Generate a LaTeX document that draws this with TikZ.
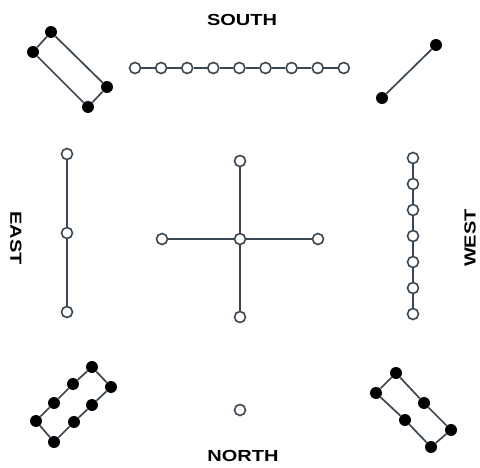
\documentclass[tikz,border=0pt]{standalone}
\usepackage{fontspec}
\newfontfamily\lblfont[FakeStretch=1.25]{Liberation Sans Bold}
\definecolor{linegray}{HTML}{3A4652}
\tikzset{
  yang/.style={circle,draw=linegray,fill=white,line width=1.6pt,inner sep=0pt,minimum size=11pt},
  yin/.style={circle,fill=black,inner sep=0pt,minimum size=12pt},
  link/.style={draw=linegray,line width=1.7pt},
  dirlabel/.style={font=\lblfont\fontsize{16}{16}\selectfont,inner sep=0pt}
}

\begin{document}
\begin{tikzpicture}[x=1pt,y=-1pt]
  \useasboundingbox (0,0) rectangle (480,468);
  % direction labels
  \node[dirlabel] (south) at (242,20) {SOUTH};
  \node[dirlabel] (north) at (243,456) {NORTH};
  \node[dirlabel,rotate=-90] (east) at (16,238) {EAST};
  \node[dirlabel,rotate=90] (west) at (470,238) {WEST};
  % south: nine white
  \foreach \i in {0,...,8}
    \node[yang] (s\i) at ({135+26.1*\i},68) {};
  \foreach \i [evaluate=\i as \j using int(\i+1)] in {0,...,7}
    \draw[link] (s\i) -- (s\j);
  % west: seven white
  \foreach \i in {0,...,6}
    \node[yang] (w\i) at (413,{158+26*\i}) {};
  \foreach \i [evaluate=\i as \j using int(\i+1)] in {0,...,5}
    \draw[link] (w\i) -- (w\j);
  % east: three white
  \foreach \i in {0,1,2}
    \node[yang] (e\i) at (67,{154+79*\i}) {};
  \draw[link] (e0) -- (e1) -- (e2);
  % centre: five white
  \node[yang] (c0) at (240,239) {};
  \node[yang] (cn) at (240,161) {};
  \node[yang] (cs) at (240,317) {};
  \node[yang] (cw) at (162,239) {};
  \node[yang] (ce) at (318,239) {};
  \foreach \k in {cn,cs,cw,ce}
    \draw[link] (c0) -- (\k);
  % north: one white
  \node[yang] (n0) at (240,410) {};
  % south-east corner: four black
  \node[yin] (tl1) at (51,32) {};
  \node[yin] (tl2) at (33,52) {};
  \node[yin] (tl3) at (88,107) {};
  \node[yin] (tl4) at (107,87) {};
  \draw[link] (tl1) -- (tl2) -- (tl3) -- (tl4) -- (tl1);
  % south-west corner: two black
  \node[yin] (tr1) at (436,45) {};
  \node[yin] (tr2) at (382,98) {};
  \draw[link] (tr1) -- (tr2);
  % north-east corner: eight black
  \node[yin] (bla1) at (92,367) {};
  \node[yin] (bla2) at (73,384) {};
  \node[yin] (bla3) at (54,403) {};
  \node[yin] (bla4) at (36,421) {};
  \node[yin] (blb1) at (111,387) {};
  \node[yin] (blb2) at (92,405) {};
  \node[yin] (blb3) at (74,422) {};
  \node[yin] (blb4) at (54,442) {};
  \draw[link] (bla1) -- (bla2) -- (bla3) -- (bla4) -- (blb4) -- (blb3) -- (blb2) -- (blb1) -- (bla1);
  % north-west corner: six black
  \node[yin] (bra1) at (396,373) {};
  \node[yin] (bra2) at (424,403) {};
  \node[yin] (bra3) at (451,430) {};
  \node[yin] (brb1) at (376,393) {};
  \node[yin] (brb2) at (405,420) {};
  \node[yin] (brb3) at (431,447) {};
  \draw[link] (bra1) -- (bra2) -- (bra3) -- (brb3) -- (brb2) -- (brb1) -- (bra1);
\end{tikzpicture}
\end{document}
